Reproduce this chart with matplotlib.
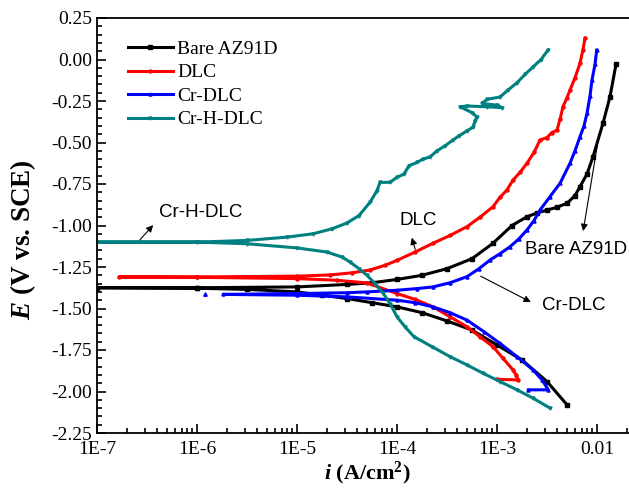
import numpy as np
import matplotlib
matplotlib.use("Agg")
import matplotlib.pyplot as plt
from matplotlib.ticker import FixedLocator, FixedFormatter, LogLocator, MultipleLocator, NullFormatter

plt.rcParams['font.family'] = ['Liberation Serif', 'DejaVu Serif']
plt.rcParams['mathtext.fontset'] = 'custom'
plt.rcParams['mathtext.rm'] = 'Liberation Serif'
plt.rcParams['mathtext.bf'] = 'Liberation Serif:bold'
plt.rcParams['mathtext.it'] = 'Liberation Serif:italic'
plt.rcParams['mathtext.bfit'] = 'Liberation Serif:italic:bold'

# currents as log10(i, A/cm2), potentials in V vs SCE
# each curve runs cathodic start -> Ecorr -> anodic end
bare_logi = [-2.30, -2.50, -2.75, -3.00, -3.25, -3.50, -3.75, -4.00, -4.25, -4.50,
             -4.75, -5.00, -5.50, -6.00, -7.00,
             -6.00, -5.00, -4.50, -4.25, -4.00, -3.75, -3.50, -3.25, -3.04, -2.85,
             -2.70, -2.60, -2.50, -2.40, -2.30, -2.22, -2.17, -2.10, -2.04, -1.94,
             -1.87, -1.81]
bare_E = [-2.08, -1.94, -1.81, -1.72, -1.63, -1.575, -1.525, -1.49, -1.465, -1.44,
          -1.42, -1.40, -1.385, -1.378, -1.375,
          -1.375, -1.37, -1.355, -1.345, -1.325, -1.30, -1.26, -1.20, -1.107, -1.00,
          -0.947, -0.925, -0.907, -0.89, -0.866, -0.82, -0.766, -0.69, -0.586, -0.384,
          -0.224, -0.029]

dlc_logi = [-3.003, -2.787, -2.81, -2.84, -2.94, -3.04, -3.17, -3.30, -3.47, -3.64,
            -3.82, -4.00, -4.30, -4.60, -5.00, -6.00, -6.78,
            -6.00, -5.00, -4.67, -4.45, -4.27, -4.12, -4.00, -3.82, -3.64, -3.47,
            -3.30, -3.17, -3.04, -2.97, -2.90, -2.84, -2.77, -2.70, -2.63, -2.57,
            -2.50, -2.45, -2.40, -2.37, -2.34, -2.30, -2.27, -2.22, -2.17, -2.14, -2.12]
dlc_E = [-1.927, -1.93, -1.90, -1.87, -1.80, -1.73, -1.67, -1.61, -1.55, -1.49,
         -1.445, -1.41, -1.346, -1.33, -1.32, -1.312, -1.31,
         -1.31, -1.305, -1.298, -1.285, -1.268, -1.24, -1.21, -1.16, -1.107, -1.06,
         -1.007, -0.95, -0.887, -0.83, -0.786, -0.726, -0.68, -0.625, -0.56, -0.485,
         -0.47, -0.44, -0.425, -0.36, -0.284, -0.23, -0.184, -0.11, -0.023, 0.06, 0.128]

crdlc_logi = [-2.687, -2.487, -2.55, -2.64, -2.80, -2.97, -3.13, -3.30, -3.47, -3.64,
              -3.82, -4.00, -4.50, -5.00, -5.74,
              -5.00, -4.50, -4.30, -4.00, -3.80, -3.64, -3.47, -3.30, -3.18, -3.07,
              -2.97, -2.87, -2.78, -2.70, -2.63, -2.57, -2.47, -2.37, -2.27, -2.22,
              -2.17, -2.13, -2.10, -2.07, -2.05, -2.02, -2.003]
crdlc_E = [-1.99, -1.99, -1.93, -1.87, -1.79, -1.71, -1.64, -1.57, -1.525, -1.49,
           -1.465, -1.45, -1.43, -1.42, -1.415,
           -1.41, -1.405, -1.40, -1.39, -1.38, -1.37, -1.345, -1.308, -1.26, -1.208,
           -1.17, -1.128, -1.08, -1.027, -0.97, -0.907, -0.826, -0.746, -0.625, -0.55,
           -0.465, -0.40, -0.324, -0.22, -0.123, -0.03, 0.057]
crdlc_stray_logi = [-5.92]
crdlc_stray_E = [-1.41]

crh_logi = [-2.47, -2.64, -2.80, -2.97, -3.14, -3.30, -3.47, -3.65, -3.83, -3.92,
            -4.00, -4.07, -4.14, -4.22, -4.30, -4.38, -4.47, -4.55, -4.70, -5.00,
            -5.50, -6.00, -7.00,
            -6.00, -5.50, -5.10, -4.84, -4.65, -4.50, -4.38, -4.27, -4.20, -4.17,
            -4.07, -4.00, -3.93, -3.88, -3.80, -3.74, -3.67, -3.60, -3.52, -3.44,
            -3.38, -3.30, -3.24, -3.22, -3.20, -3.25, -3.37, -3.30, -3.10, -2.95,
            -3.00, -3.15, -3.10, -2.97, -2.89, -2.80, -2.72, -2.64, -2.56, -2.49]
crh_E = [-2.10, -2.04, -1.99, -1.94, -1.89, -1.84, -1.79, -1.73, -1.67, -1.61,
         -1.55, -1.47, -1.407, -1.35, -1.30, -1.26, -1.22, -1.19, -1.16, -1.135,
         -1.11, -1.10, -1.10,
         -1.10, -1.09, -1.07, -1.05, -1.02, -0.985, -0.94, -0.86, -0.79, -0.74,
         -0.74, -0.71, -0.69, -0.64, -0.62, -0.60, -0.587, -0.55, -0.52, -0.485,
         -0.46, -0.43, -0.407, -0.37, -0.346, -0.32, -0.285, -0.28, -0.285, -0.29,
         -0.275, -0.265, -0.24, -0.226, -0.184, -0.14, -0.09, -0.045, 0.0, 0.057]

series = [
    ("Bare AZ91D", bare_logi, bare_E, "black", "s"),
    ("DLC", dlc_logi, dlc_E, "#ff0000", "o"),
    ("Cr-DLC", crdlc_logi, crdlc_E, "#0000ff", "^"),
    ("Cr-H-DLC", crh_logi, crh_E, "#008080", "v"),
]

xticks = [1e-7, 1e-6, 1e-5, 1e-4, 1e-3, 1e-2]
xticklabels = ["1E-7", "1E-6", "1E-5", "1E-4", "1E-3", "0.01"]

fig = plt.figure(figsize=(6.29, 5.0), dpi=100)
ax = fig.add_axes([97 / 629, 67 / 500, 540 / 629, 415 / 500])

for name, logi, e_vals, col, mk in series:
    ax.plot(10.0 ** np.array(logi), e_vals, color=col, lw=2.2, marker=mk, ms=2.2, label=name)
ax.plot(10.0 ** np.array(crdlc_stray_logi), crdlc_stray_E, ls="none", marker="^", ms=2.5,
        color="#0000ff")

ax.set_xscale("log")
ax.set_xlim(1e-7, 10 ** -1.6)
ax.set_ylim(-2.25, 0.25)

ax.xaxis.set_major_locator(FixedLocator(xticks))
ax.xaxis.set_major_formatter(FixedFormatter(xticklabels))
ax.xaxis.set_minor_locator(LogLocator(base=10, subs=np.arange(2, 10)))
ax.xaxis.set_minor_formatter(NullFormatter())
ax.yaxis.set_major_locator(MultipleLocator(0.25))
ax.yaxis.set_minor_locator(MultipleLocator(0.05))
ax.yaxis.set_major_formatter(plt.FuncFormatter(lambda v, p: f"{v:.2f}"))

ax.tick_params(which="both", direction="in", top=False, right=False, labelsize=14, width=1.2)
ax.tick_params(axis="x", which="major", pad=6)
ax.tick_params(which="major", length=6.5)
ax.tick_params(which="minor", length=3.6)
for sp in ax.spines.values():
    sp.set_linewidth(1.3)

ax.set_ylabel(r"$\mathbfit{E}$ (V vs. SCE)", fontsize=19.5, fontweight="bold")
ax.yaxis.set_label_coords(-0.11, 0.465)
ax.set_xlabel(r"$\mathbfit{i}$ (A/cm$^\mathbf{2}$)", fontsize=16, fontweight="bold", labelpad=1)

ax.legend(loc="upper left", bbox_to_anchor=(0.057, 0.946), frameon=False, fontsize=14,
          handlelength=2.3, handletextpad=0.25, labelspacing=0.3, borderpad=0, borderaxespad=0)

# annotations
arrow = dict(arrowstyle="-|>", color="black", lw=0.8, mutation_scale=10)
sans = ["Liberation Sans", "DejaVu Sans"]
ax.annotate("", xy=(10 ** -6.42, -0.985), xytext=(10 ** -6.59, -1.099), arrowprops=arrow)
ax.text(10 ** -5.96, -0.919, "Cr-H-DLC", family=sans, fontsize=13.5, ha="center", va="center")
ax.annotate("", xy=(10 ** -3.86, -1.057), xytext=(10 ** -3.81, -1.16), arrowprops=arrow)
ax.text(10 ** -3.79, -0.967, "DLC", family=sans, fontsize=13.5, ha="center", va="center")
ax.annotate("", xy=(10 ** -2.143, -1.05), xytext=(10 ** -1.97, -0.42), arrowprops=arrow)
ax.text(10 ** -2.21, -1.142, "Bare AZ91D", family=sans, fontsize=13.5, ha="center", va="center")
ax.annotate("", xy=(10 ** -2.637, -1.469), xytext=(10 ** -3.187, -1.298), arrowprops=arrow)
ax.text(10 ** -2.23, -1.479, "Cr-DLC", family=sans, fontsize=13.5, ha="center", va="center")

fig.savefig("out.png", dpi=100)
